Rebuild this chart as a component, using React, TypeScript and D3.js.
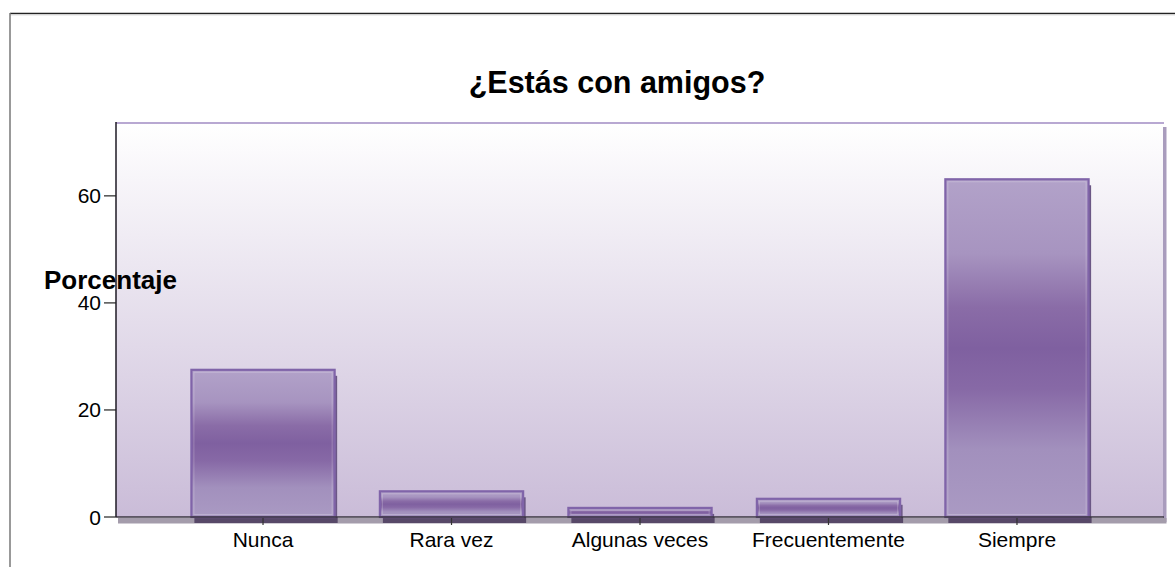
import React from "react";
import * as d3 from "d3";

const categories = ["Nunca", "Rara vez", "Algunas veces", "Frecuentemente", "Siempre"];
const percentages = [27.5, 4.8, 1.7, 3.4, 63.1];
const yTicks = [0, 20, 40, 60];
const title = "¿Estás con amigos?";
const yLabel = "Porcentaje";

const W = 1175;
const H = 567;
const plot = { left: 116, right: 1164, top: 122, bottom: 517 };
const FONT = "'Liberation Sans', Arial, Helvetica, sans-serif";

export default function App() {
  const x = d3
    .scaleBand<string>()
    .domain(categories)
    .range([plot.left, plot.right])
    .paddingInner(0.24)
    .paddingOuter(0.4);
  const y = d3.scaleLinear().domain([0, 73.8]).range([plot.bottom, plot.top]);
  const bw = x.bandwidth();

  return (
    <svg
      width={W}
      height={H}
      style={{ position: "absolute", left: 0, top: 0, background: "#fff" }}
    >
      <defs>
        <linearGradient id="bgGrad" x1="0" y1="0" x2="0" y2="1">
          <stop offset="0%" stopColor="#ffffff" />
          <stop offset="100%" stopColor="#cabcd8" />
        </linearGradient>
        <linearGradient id="barGrad" x1="0" y1="0" x2="0" y2="1">
          <stop offset="0%" stopColor="#b2a2c9" />
          <stop offset="22%" stopColor="#a794c0" />
          <stop offset="38%" stopColor="#8a6ca7" />
          <stop offset="50%" stopColor="#7f60a0" />
          <stop offset="62%" stopColor="#8769a6" />
          <stop offset="80%" stopColor="#a290bd" />
          <stop offset="100%" stopColor="#aa9ac3" />
        </linearGradient>
      </defs>

      {/* outer frame */}
      <line x1={10} x2={W} y1={13.5} y2={13.5} stroke="#222" strokeWidth={1.5} />
      <line x1={10} x2={W} y1={15} y2={15} stroke="#ddd" strokeWidth={1} />
      <line x1={10} x2={10} y1={13} y2={H} stroke="#777" strokeWidth={1.5} />

      {/* title */}
      <text
        x={617}
        y={93}
        textAnchor="middle"
        fontFamily={FONT}
        fontWeight="bold"
        fontSize={30.5}
        fill="#000"
      >
        {title}
      </text>

      {/* plot background */}
      <rect x={plot.right - 1} y={plot.top + 5} width={3.5} height={plot.bottom - plot.top} fill="#a99cbd" />
      <rect
        x={plot.left + 2}
        y={plot.bottom + 1}
        width={plot.right - plot.left + 0.5}
        height={5.5}
        fill="#a49cab"
      />
      <rect
        x={plot.left}
        y={plot.top}
        width={plot.right - plot.left - 1}
        height={plot.bottom - plot.top}
        fill="url(#bgGrad)"
      />
      <line x1={plot.left} x2={plot.right} y1={plot.top + 1} y2={plot.top + 1} stroke="#b8a8d2" strokeWidth={2} />

      {/* bars */}
      {categories.map((c, i) => {
        const x0 = x(c)!;
        const yTop = y(percentages[i]);
        const h = plot.bottom - yTop;
        return (
          <g key={c}>
            <rect x={x0 + 3} y={plot.bottom} width={bw} height={6} fill="#574868" />
            <rect x={x0 + bw - 1} y={Math.min(yTop + 6, plot.bottom - 1)} width={3.5} height={Math.max(plot.bottom - yTop - 6, 1)} fill="#6b5785" />
            <rect x={x0} y={yTop} width={bw} height={h} fill="url(#barGrad)" stroke="#8064a9" strokeWidth={2.2} />
            {h > 6 && (
              <rect
                x={x0 + 2.5}
                y={yTop + 2.5}
                width={bw - 5}
                height={h - 5}
                fill="none"
                stroke="rgba(255,255,255,0.22)"
                strokeWidth={1}
              />
            )}
          </g>
        );
      })}

      {/* baseline and y axis */}
      <line x1={plot.left} x2={plot.right} y1={plot.bottom} y2={plot.bottom} stroke="#3a3440" strokeWidth={1.5} />
      <line x1={plot.left} x2={plot.left} y1={plot.top} y2={plot.bottom} stroke="#1e1a24" strokeWidth={1.5} />

      {/* y ticks */}
      {yTicks.map((t) => (
        <g key={t}>
          <line x1={plot.left - 12} x2={plot.left} y1={y(t)} y2={y(t)} stroke="#222" strokeWidth={1.2} />
          <text
            x={plot.left - 15}
            y={y(t) + 7.5}
            textAnchor="end"
            fontFamily={FONT}
            fontSize={21}
            fill="#000"
          >
            {t}
          </text>
        </g>
      ))}

      {/* x ticks */}
      {categories.map((c) => {
        const cx = x(c)! + bw / 2;
        return (
          <g key={c}>
            <line x1={cx} x2={cx} y1={plot.bottom + 1} y2={plot.bottom + 8} stroke="#333" strokeWidth={1.2} />
            <text x={cx} y={547} textAnchor="middle" fontFamily={FONT} fontSize={21} fill="#000">
              {c}
            </text>
          </g>
        );
      })}

      {/* y label */}
      <text x={44} y={289} fontFamily={FONT} fontWeight="bold" fontSize={26} fill="#000">
        {yLabel}
      </text>
    </svg>
  );
}
